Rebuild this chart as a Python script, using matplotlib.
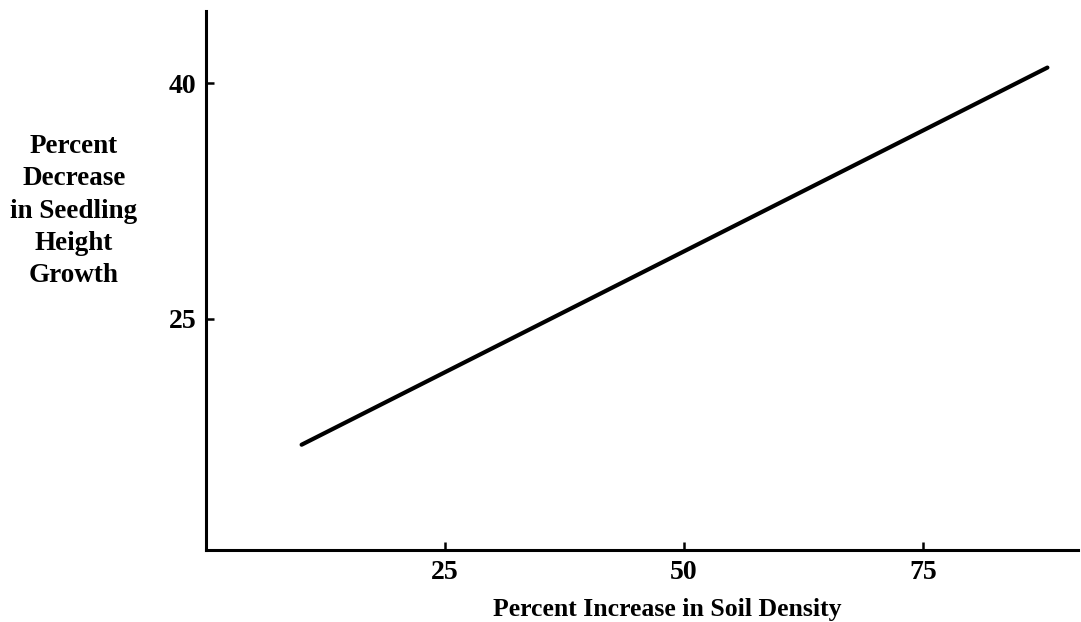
import matplotlib.pyplot as plt

# regression line: soil density increase vs height decrease
density = [10, 88]
decrease = [17.0, 41.0]

x_ticks = [25, 50, 75]
y_ticks = [25, 40]

y_label = 'Percent\nDecrease\nin Seedling\nHeight\nGrowth'
x_label = 'Percent Increase in Soil Density'

plt.rcParams['font.family'] = ['Liberation Serif', 'DejaVu Serif']
plt.rcParams['font.weight'] = 'bold'

fig = plt.figure(figsize=(10.81, 6.22), dpi=100)
ax = fig.add_axes([206 / 1081, 1 - 550 / 622, (1078 - 206) / 1081, (550 - 11) / 622])

ax.plot(density, decrease, color='black', linewidth=3.0, solid_capstyle='round')

ax.set_xlim(0, 91.2)
ax.set_ylim(10.3, 44.6)
ax.set_xticks(x_ticks)
ax.set_yticks(y_ticks)
ax.set_xticklabels([str(t) for t in x_ticks], fontsize=20, fontweight='bold')
ax.set_yticklabels([str(t) for t in y_ticks], fontsize=20, fontweight='bold')
ax.tick_params(direction='in', length=6, width=1.8, pad=7, colors='black')

for side in ('top', 'right'):
    ax.spines[side].set_visible(False)
for side in ('left', 'bottom'):
    ax.spines[side].set_linewidth(2.2)

fig.text(74 / 1081, 1 - 211 / 622, y_label, ha='center', va='center',
         multialignment='center', fontsize=19.5, fontweight='bold', linespacing=1.38)
fig.text(667 / 1081, 1 - 616 / 622, x_label, ha='center', va='baseline',
         fontsize=18.5, fontweight='bold')

fig.savefig('out.png', dpi=100)
